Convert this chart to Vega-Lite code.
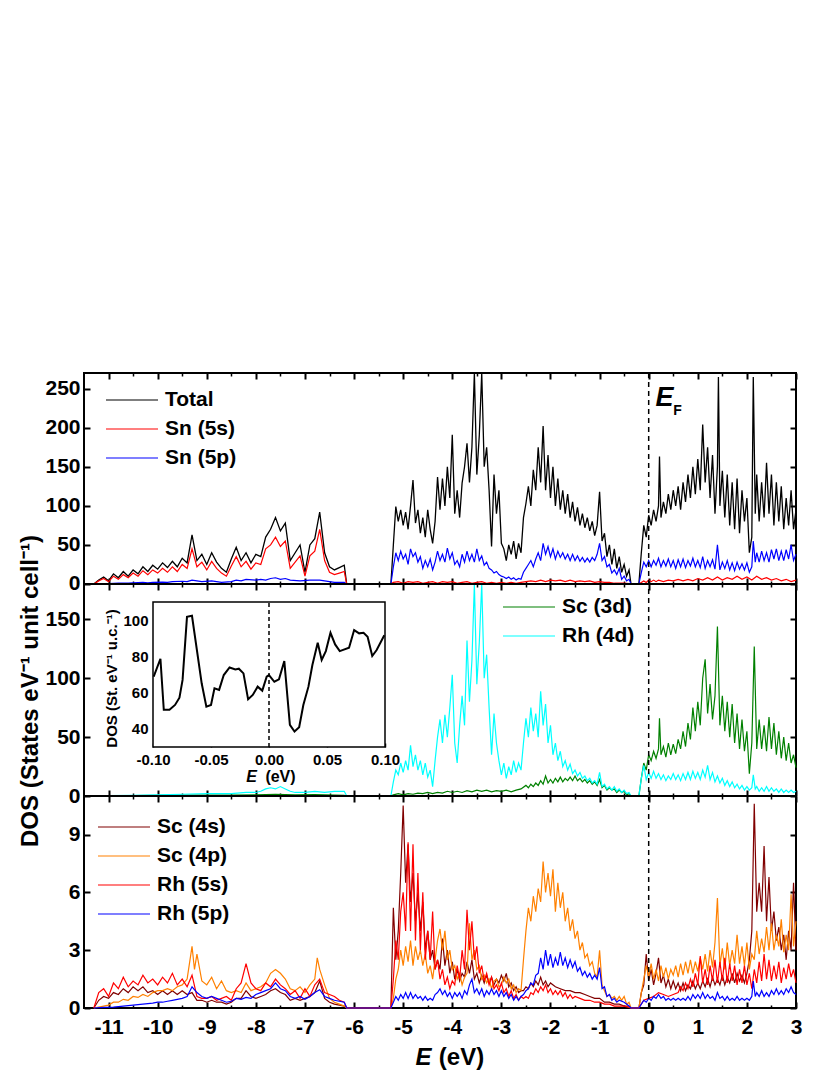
{
"$schema": "https://vega.github.io/schema/vega-lite/v6.json",
"autosize": {"type": "none"},
"padding": {"left": 84, "top": 373, "right": 34, "bottom": 67},
"width": 712,
"height": 635,
"config": {
 "font": "Liberation Sans",
 "view": {"stroke": "black", "strokeWidth": 2},
 "axis": {"grid": false, "domain": false, "labelFont": "Liberation Sans", "labelFontWeight": "bold", "labelFontSize": 21, "labelColor": "black", "tickColor": "black", "tickWidth": 2, "titleFont": "Liberation Sans", "titleFontWeight": "bold", "titleFontSize": 24, "titleColor": "black", "labelFlush": false, "labelOverlap": false},
 "legend": {"labelFont": "Liberation Sans", "labelFontSize": 21, "labelFontWeight": "bold", "labelColor": "black", "symbolType": "stroke", "symbolSize": 2704, "symbolStrokeWidth": 1.5, "labelOffset": 6, "orient": "none", "title": null},
 "line": {"strokeWidth": 1.2}
},
"resolve": {"scale": {"x": "independent", "y": "independent", "color": "independent"}, "axis": {"x": "independent", "y": "independent"}, "legend": {"color": "independent"}},
"datasets": {
"total": [{"E":-11.3,"v":0},{"E":-11.2,"v":5},{"E":-11.1,"v":9},{"E":-11.0,"v":4},{"E":-10.9,"v":13},{"E":-10.8,"v":8},{"E":-10.7,"v":16},{"E":-10.6,"v":10},{"E":-10.5,"v":18},{"E":-10.4,"v":13},{"E":-10.3,"v":22},{"E":-10.2,"v":16},{"E":-10.1,"v":24},{"E":-10.0,"v":19},{"E":-9.9,"v":27},{"E":-9.8,"v":21},{"E":-9.7,"v":29},{"E":-9.6,"v":22},{"E":-9.5,"v":33},{"E":-9.4,"v":27},{"E":-9.3,"v":63},{"E":-9.2,"v":30},{"E":-9.1,"v":38},{"E":-9.0,"v":25},{"E":-8.9,"v":40},{"E":-8.8,"v":28},{"E":-8.7,"v":20},{"E":-8.6,"v":15},{"E":-8.5,"v":32},{"E":-8.4,"v":47},{"E":-8.3,"v":30},{"E":-8.2,"v":40},{"E":-8.1,"v":27},{"E":-8.0,"v":38},{"E":-7.9,"v":35},{"E":-7.8,"v":60},{"E":-7.7,"v":70},{"E":-7.6,"v":85},{"E":-7.5,"v":68},{"E":-7.4,"v":78},{"E":-7.3,"v":30},{"E":-7.2,"v":40},{"E":-7.1,"v":50},{"E":-7.0,"v":15},{"E":-6.9,"v":50},{"E":-6.8,"v":58},{"E":-6.7,"v":92},{"E":-6.6,"v":40},{"E":-6.5,"v":22},{"E":-6.4,"v":18},{"E":-6.3,"v":21},{"E":-6.2,"v":24},{"E":-6.15,"v":0},{"E":-5.25,"v":0},{"E":-5.2,"v":50},{"E":-5.15,"v":99},{"E":-5.1,"v":80},{"E":-5.05,"v":95},{"E":-5.0,"v":75},{"E":-4.95,"v":92},{"E":-4.9,"v":70},{"E":-4.85,"v":100},{"E":-4.8,"v":133},{"E":-4.75,"v":78},{"E":-4.7,"v":95},{"E":-4.65,"v":65},{"E":-4.6,"v":85},{"E":-4.55,"v":60},{"E":-4.5,"v":95},{"E":-4.45,"v":70},{"E":-4.4,"v":52},{"E":-4.35,"v":80},{"E":-4.3,"v":137},{"E":-4.25,"v":95},{"E":-4.2,"v":135},{"E":-4.15,"v":100},{"E":-4.1,"v":150},{"E":-4.05,"v":110},{"E":-4.0,"v":191},{"E":-3.95,"v":90},{"E":-3.9,"v":120},{"E":-3.85,"v":85},{"E":-3.8,"v":129},{"E":-3.75,"v":150},{"E":-3.7,"v":180},{"E":-3.65,"v":130},{"E":-3.6,"v":175},{"E":-3.55,"v":270},{"E":-3.5,"v":140},{"E":-3.45,"v":190},{"E":-3.4,"v":270},{"E":-3.35,"v":150},{"E":-3.3,"v":175},{"E":-3.25,"v":120},{"E":-3.2,"v":48},{"E":-3.15,"v":140},{"E":-3.1,"v":90},{"E":-3.05,"v":120},{"E":-3.0,"v":52},{"E":-2.95,"v":45},{"E":-2.9,"v":30},{"E":-2.85,"v":50},{"E":-2.8,"v":38},{"E":-2.75,"v":55},{"E":-2.7,"v":32},{"E":-2.65,"v":52},{"E":-2.6,"v":40},{"E":-2.55,"v":85},{"E":-2.5,"v":103},{"E":-2.45,"v":125},{"E":-2.4,"v":100},{"E":-2.35,"v":146},{"E":-2.3,"v":120},{"E":-2.25,"v":175},{"E":-2.2,"v":130},{"E":-2.15,"v":202},{"E":-2.1,"v":120},{"E":-2.05,"v":165},{"E":-2.0,"v":110},{"E":-1.95,"v":150},{"E":-1.9,"v":100},{"E":-1.85,"v":135},{"E":-1.8,"v":95},{"E":-1.75,"v":120},{"E":-1.7,"v":90},{"E":-1.65,"v":115},{"E":-1.6,"v":85},{"E":-1.55,"v":105},{"E":-1.5,"v":80},{"E":-1.45,"v":98},{"E":-1.4,"v":75},{"E":-1.35,"v":90},{"E":-1.3,"v":72},{"E":-1.25,"v":85},{"E":-1.2,"v":68},{"E":-1.15,"v":80},{"E":-1.1,"v":62},{"E":-1.05,"v":75},{"E":-1.0,"v":118},{"E":-0.95,"v":55},{"E":-0.9,"v":65},{"E":-0.85,"v":35},{"E":-0.8,"v":50},{"E":-0.75,"v":25},{"E":-0.7,"v":45},{"E":-0.65,"v":20},{"E":-0.6,"v":35},{"E":-0.55,"v":15},{"E":-0.5,"v":25},{"E":-0.45,"v":10},{"E":-0.4,"v":18},{"E":-0.36,"v":0},{"E":-0.2,"v":0},{"E":-0.15,"v":40},{"E":-0.1,"v":75},{"E":-0.05,"v":60},{"E":0.0,"v":88},{"E":0.05,"v":75},{"E":0.1,"v":95},{"E":0.15,"v":80},{"E":0.2,"v":100},{"E":0.22,"v":163},{"E":0.25,"v":85},{"E":0.3,"v":105},{"E":0.35,"v":90},{"E":0.4,"v":115},{"E":0.45,"v":95},{"E":0.5,"v":120},{"E":0.55,"v":100},{"E":0.6,"v":125},{"E":0.65,"v":95},{"E":0.7,"v":130},{"E":0.75,"v":105},{"E":0.8,"v":140},{"E":0.85,"v":110},{"E":0.9,"v":150},{"E":0.95,"v":115},{"E":1.0,"v":160},{"E":1.05,"v":120},{"E":1.1,"v":204},{"E":1.15,"v":130},{"E":1.2,"v":175},{"E":1.25,"v":110},{"E":1.3,"v":165},{"E":1.35,"v":90},{"E":1.4,"v":150},{"E":1.42,"v":265},{"E":1.45,"v":100},{"E":1.5,"v":145},{"E":1.55,"v":85},{"E":1.6,"v":140},{"E":1.65,"v":75},{"E":1.7,"v":130},{"E":1.75,"v":70},{"E":1.8,"v":135},{"E":1.85,"v":65},{"E":1.9,"v":120},{"E":1.95,"v":80},{"E":2.0,"v":110},{"E":2.05,"v":40},{"E":2.1,"v":60},{"E":2.13,"v":265},{"E":2.17,"v":90},{"E":2.2,"v":140},{"E":2.25,"v":80},{"E":2.3,"v":130},{"E":2.35,"v":85},{"E":2.4,"v":155},{"E":2.45,"v":90},{"E":2.5,"v":140},{"E":2.55,"v":75},{"E":2.6,"v":130},{"E":2.65,"v":80},{"E":2.7,"v":125},{"E":2.75,"v":70},{"E":2.8,"v":110},{"E":2.85,"v":75},{"E":2.9,"v":120},{"E":2.95,"v":70},{"E":3.0,"v":95}],
"sn5s": [{"E":-11.3,"v":0},{"E":-11.2,"v":4},{"E":-11.1,"v":7},{"E":-11.0,"v":3},{"E":-10.9,"v":10},{"E":-10.8,"v":6},{"E":-10.7,"v":12},{"E":-10.6,"v":8},{"E":-10.5,"v":14},{"E":-10.4,"v":10},{"E":-10.3,"v":17},{"E":-10.2,"v":12},{"E":-10.1,"v":18},{"E":-10.0,"v":14},{"E":-9.9,"v":20},{"E":-9.8,"v":15},{"E":-9.7,"v":22},{"E":-9.6,"v":16},{"E":-9.5,"v":25},{"E":-9.4,"v":20},{"E":-9.3,"v":45},{"E":-9.2,"v":22},{"E":-9.1,"v":28},{"E":-9.0,"v":18},{"E":-8.9,"v":29},{"E":-8.8,"v":20},{"E":-8.7,"v":14},{"E":-8.6,"v":10},{"E":-8.5,"v":23},{"E":-8.4,"v":35},{"E":-8.3,"v":22},{"E":-8.2,"v":29},{"E":-8.1,"v":19},{"E":-8.0,"v":27},{"E":-7.9,"v":25},{"E":-7.8,"v":45},{"E":-7.7,"v":50},{"E":-7.6,"v":60},{"E":-7.5,"v":48},{"E":-7.4,"v":55},{"E":-7.3,"v":20},{"E":-7.2,"v":28},{"E":-7.1,"v":36},{"E":-7.0,"v":10},{"E":-6.9,"v":36},{"E":-6.8,"v":42},{"E":-6.7,"v":70},{"E":-6.6,"v":30},{"E":-6.5,"v":15},{"E":-6.4,"v":12},{"E":-6.3,"v":14},{"E":-6.2,"v":16},{"E":-6.15,"v":0},{"E":-5.25,"v":0},{"E":-5.2,"v":2},{"E":-5.1,"v":3},{"E":-5.0,"v":1},{"E":-4.9,"v":3},{"E":-4.8,"v":2},{"E":-4.7,"v":3},{"E":-4.6,"v":1},{"E":-4.5,"v":2},{"E":-4.4,"v":3},{"E":-4.3,"v":1},{"E":-4.2,"v":3},{"E":-4.1,"v":2},{"E":-4.0,"v":3},{"E":-3.9,"v":1},{"E":-3.8,"v":2},{"E":-3.7,"v":3},{"E":-3.6,"v":1},{"E":-3.5,"v":2},{"E":-3.4,"v":3},{"E":-3.3,"v":1},{"E":-3.2,"v":2},{"E":-3.1,"v":1},{"E":-3.0,"v":2},{"E":-2.9,"v":1},{"E":-2.8,"v":2},{"E":-2.7,"v":1},{"E":-2.6,"v":2},{"E":-2.5,"v":3},{"E":-2.4,"v":4},{"E":-2.3,"v":3},{"E":-2.2,"v":5},{"E":-2.1,"v":3},{"E":-2.0,"v":5},{"E":-1.9,"v":4},{"E":-1.8,"v":5},{"E":-1.7,"v":3},{"E":-1.6,"v":5},{"E":-1.5,"v":3},{"E":-1.4,"v":4},{"E":-1.3,"v":3},{"E":-1.2,"v":4},{"E":-1.1,"v":2},{"E":-1.0,"v":3},{"E":-0.9,"v":2},{"E":-0.8,"v":2},{"E":-0.7,"v":1},{"E":-0.6,"v":1},{"E":-0.5,"v":1},{"E":-0.4,"v":0.5},{"E":-0.36,"v":0},{"E":-0.2,"v":0},{"E":-0.1,"v":4},{"E":-0.05,"v":2},{"E":0.0,"v":5},{"E":0.05,"v":3},{"E":0.1,"v":5},{"E":0.15,"v":3},{"E":0.2,"v":5},{"E":0.3,"v":3},{"E":0.4,"v":5},{"E":0.5,"v":4},{"E":0.6,"v":6},{"E":0.7,"v":4},{"E":0.8,"v":6},{"E":0.9,"v":4},{"E":1.0,"v":7},{"E":1.1,"v":5},{"E":1.2,"v":8},{"E":1.3,"v":5},{"E":1.4,"v":9},{"E":1.5,"v":5},{"E":1.6,"v":8},{"E":1.7,"v":6},{"E":1.8,"v":10},{"E":1.9,"v":6},{"E":2.0,"v":9},{"E":2.1,"v":5},{"E":2.2,"v":10},{"E":2.3,"v":6},{"E":2.4,"v":8},{"E":2.5,"v":5},{"E":2.6,"v":7},{"E":2.7,"v":4},{"E":2.8,"v":6},{"E":2.9,"v":3},{"E":3.0,"v":5}],
"sn5p": [{"E":-11.3,"v":0},{"E":-11.1,"v":0},{"E":-11.0,"v":0.5},{"E":-10.8,"v":1},{"E":-10.6,"v":1},{"E":-10.5,"v":1.5},{"E":-10.3,"v":2},{"E":-10.2,"v":1.5},{"E":-10.1,"v":2},{"E":-9.9,"v":2.5},{"E":-9.8,"v":2},{"E":-9.7,"v":3},{"E":-9.5,"v":3.5},{"E":-9.4,"v":3},{"E":-9.3,"v":5},{"E":-9.2,"v":4},{"E":-9.1,"v":3},{"E":-8.9,"v":4},{"E":-8.8,"v":3},{"E":-8.7,"v":2},{"E":-8.5,"v":3},{"E":-8.4,"v":5},{"E":-8.3,"v":4},{"E":-8.2,"v":6},{"E":-8.0,"v":5},{"E":-7.9,"v":6},{"E":-7.8,"v":5},{"E":-7.7,"v":7},{"E":-7.6,"v":8},{"E":-7.5,"v":6},{"E":-7.4,"v":7},{"E":-7.3,"v":5},{"E":-7.1,"v":4},{"E":-6.9,"v":5},{"E":-6.7,"v":5},{"E":-6.6,"v":4},{"E":-6.5,"v":3},{"E":-6.4,"v":2},{"E":-6.2,"v":2},{"E":-6.15,"v":0},{"E":-5.25,"v":0},{"E":-5.2,"v":22},{"E":-5.15,"v":40},{"E":-5.1,"v":30},{"E":-5.05,"v":42},{"E":-5.0,"v":32},{"E":-4.95,"v":38},{"E":-4.9,"v":25},{"E":-4.85,"v":45},{"E":-4.8,"v":35},{"E":-4.75,"v":40},{"E":-4.7,"v":28},{"E":-4.65,"v":35},{"E":-4.6,"v":20},{"E":-4.55,"v":30},{"E":-4.5,"v":22},{"E":-4.45,"v":32},{"E":-4.4,"v":18},{"E":-4.35,"v":28},{"E":-4.3,"v":42},{"E":-4.25,"v":30},{"E":-4.2,"v":38},{"E":-4.15,"v":28},{"E":-4.1,"v":46},{"E":-4.05,"v":32},{"E":-4.0,"v":40},{"E":-3.95,"v":25},{"E":-3.9,"v":30},{"E":-3.85,"v":22},{"E":-3.8,"v":38},{"E":-3.75,"v":28},{"E":-3.7,"v":42},{"E":-3.65,"v":30},{"E":-3.6,"v":38},{"E":-3.55,"v":28},{"E":-3.5,"v":45},{"E":-3.45,"v":30},{"E":-3.4,"v":36},{"E":-3.35,"v":24},{"E":-3.3,"v":28},{"E":-3.25,"v":20},{"E":-3.2,"v":18},{"E":-3.15,"v":14},{"E":-3.1,"v":16},{"E":-3.05,"v":12},{"E":-3.0,"v":10},{"E":-2.95,"v":9},{"E":-2.9,"v":7},{"E":-2.85,"v":9},{"E":-2.8,"v":6},{"E":-2.75,"v":8},{"E":-2.7,"v":5},{"E":-2.65,"v":7},{"E":-2.6,"v":6},{"E":-2.55,"v":15},{"E":-2.5,"v":20},{"E":-2.45,"v":25},{"E":-2.4,"v":30},{"E":-2.35,"v":22},{"E":-2.3,"v":32},{"E":-2.25,"v":40},{"E":-2.2,"v":30},{"E":-2.15,"v":52},{"E":-2.1,"v":38},{"E":-2.05,"v":48},{"E":-2.0,"v":35},{"E":-1.95,"v":45},{"E":-1.9,"v":32},{"E":-1.85,"v":42},{"E":-1.8,"v":34},{"E":-1.75,"v":40},{"E":-1.7,"v":32},{"E":-1.65,"v":38},{"E":-1.6,"v":30},{"E":-1.55,"v":38},{"E":-1.5,"v":30},{"E":-1.45,"v":36},{"E":-1.4,"v":29},{"E":-1.35,"v":34},{"E":-1.3,"v":28},{"E":-1.25,"v":33},{"E":-1.2,"v":28},{"E":-1.15,"v":34},{"E":-1.1,"v":30},{"E":-1.05,"v":38},{"E":-1.0,"v":52},{"E":-0.95,"v":30},{"E":-0.9,"v":35},{"E":-0.85,"v":22},{"E":-0.8,"v":25},{"E":-0.75,"v":14},{"E":-0.7,"v":18},{"E":-0.65,"v":12},{"E":-0.6,"v":20},{"E":-0.55,"v":6},{"E":-0.5,"v":10},{"E":-0.45,"v":4},{"E":-0.4,"v":6},{"E":-0.36,"v":0},{"E":-0.2,"v":0},{"E":-0.15,"v":15},{"E":-0.1,"v":28},{"E":-0.05,"v":22},{"E":0.0,"v":30},{"E":0.05,"v":22},{"E":0.1,"v":30},{"E":0.15,"v":24},{"E":0.2,"v":33},{"E":0.25,"v":22},{"E":0.3,"v":30},{"E":0.35,"v":23},{"E":0.4,"v":32},{"E":0.45,"v":22},{"E":0.5,"v":30},{"E":0.55,"v":20},{"E":0.6,"v":31},{"E":0.65,"v":22},{"E":0.7,"v":32},{"E":0.75,"v":21},{"E":0.8,"v":30},{"E":0.85,"v":23},{"E":0.9,"v":33},{"E":0.95,"v":22},{"E":1.0,"v":30},{"E":1.05,"v":21},{"E":1.1,"v":35},{"E":1.15,"v":20},{"E":1.2,"v":30},{"E":1.25,"v":22},{"E":1.3,"v":31},{"E":1.35,"v":19},{"E":1.4,"v":50},{"E":1.45,"v":18},{"E":1.5,"v":28},{"E":1.55,"v":20},{"E":1.6,"v":30},{"E":1.65,"v":18},{"E":1.7,"v":27},{"E":1.75,"v":17},{"E":1.8,"v":28},{"E":1.85,"v":19},{"E":1.9,"v":26},{"E":1.95,"v":18},{"E":2.0,"v":27},{"E":2.05,"v":15},{"E":2.1,"v":22},{"E":2.13,"v":55},{"E":2.17,"v":28},{"E":2.2,"v":40},{"E":2.25,"v":28},{"E":2.3,"v":42},{"E":2.35,"v":30},{"E":2.4,"v":40},{"E":2.45,"v":28},{"E":2.5,"v":44},{"E":2.55,"v":32},{"E":2.6,"v":45},{"E":2.65,"v":30},{"E":2.7,"v":42},{"E":2.75,"v":30},{"E":2.8,"v":44},{"E":2.85,"v":32},{"E":2.9,"v":50},{"E":2.95,"v":30},{"E":3.0,"v":38}],
"sc3d": [{"E":-11.3,"v":0},{"E":-10.5,"v":0.3},{"E":-10.0,"v":0.5},{"E":-9.5,"v":0.7},{"E":-9.0,"v":0.8},{"E":-8.5,"v":0.7},{"E":-8.0,"v":1},{"E":-7.6,"v":1.5},{"E":-7.2,"v":1},{"E":-6.8,"v":1.2},{"E":-6.4,"v":0.8},{"E":-6.2,"v":0.6},{"E":-6.15,"v":0},{"E":-5.25,"v":0},{"E":-5.2,"v":1},{"E":-5.1,"v":2},{"E":-5.0,"v":1},{"E":-4.9,"v":2},{"E":-4.8,"v":1.5},{"E":-4.7,"v":2.5},{"E":-4.6,"v":2},{"E":-4.5,"v":3},{"E":-4.4,"v":2},{"E":-4.3,"v":3},{"E":-4.2,"v":2.5},{"E":-4.1,"v":4},{"E":-4.0,"v":3},{"E":-3.9,"v":4},{"E":-3.8,"v":3},{"E":-3.7,"v":4.5},{"E":-3.6,"v":3.5},{"E":-3.5,"v":5},{"E":-3.4,"v":4},{"E":-3.3,"v":5},{"E":-3.2,"v":3.5},{"E":-3.1,"v":4.5},{"E":-3.0,"v":4},{"E":-2.9,"v":5},{"E":-2.8,"v":3.5},{"E":-2.7,"v":5},{"E":-2.6,"v":6},{"E":-2.5,"v":9},{"E":-2.45,"v":7},{"E":-2.4,"v":10},{"E":-2.35,"v":8},{"E":-2.3,"v":11},{"E":-2.25,"v":9},{"E":-2.2,"v":13},{"E":-2.15,"v":10},{"E":-2.1,"v":17},{"E":-2.05,"v":11},{"E":-2.0,"v":14},{"E":-1.95,"v":11},{"E":-1.9,"v":15},{"E":-1.85,"v":12},{"E":-1.8,"v":16},{"E":-1.75,"v":12},{"E":-1.7,"v":15},{"E":-1.65,"v":13},{"E":-1.6,"v":16},{"E":-1.55,"v":13},{"E":-1.5,"v":17},{"E":-1.45,"v":13},{"E":-1.4,"v":15},{"E":-1.35,"v":12},{"E":-1.3,"v":14},{"E":-1.25,"v":11},{"E":-1.2,"v":13},{"E":-1.15,"v":10},{"E":-1.1,"v":12},{"E":-1.05,"v":9},{"E":-1.0,"v":14},{"E":-0.95,"v":7},{"E":-0.9,"v":9},{"E":-0.85,"v":5},{"E":-0.8,"v":7},{"E":-0.75,"v":5},{"E":-0.7,"v":6},{"E":-0.65,"v":3},{"E":-0.6,"v":5},{"E":-0.55,"v":3},{"E":-0.5,"v":4},{"E":-0.45,"v":1},{"E":-0.4,"v":2},{"E":-0.36,"v":0},{"E":-0.2,"v":0},{"E":-0.15,"v":15},{"E":-0.1,"v":28},{"E":-0.05,"v":22},{"E":0.0,"v":35},{"E":0.05,"v":30},{"E":0.1,"v":38},{"E":0.15,"v":32},{"E":0.2,"v":40},{"E":0.22,"v":66},{"E":0.25,"v":35},{"E":0.3,"v":42},{"E":0.35,"v":33},{"E":0.4,"v":45},{"E":0.45,"v":35},{"E":0.5,"v":44},{"E":0.55,"v":36},{"E":0.6,"v":48},{"E":0.65,"v":40},{"E":0.7,"v":55},{"E":0.75,"v":42},{"E":0.8,"v":62},{"E":0.85,"v":48},{"E":0.9,"v":75},{"E":0.95,"v":55},{"E":1.0,"v":80},{"E":1.05,"v":60},{"E":1.1,"v":100},{"E":1.15,"v":116},{"E":1.2,"v":70},{"E":1.25,"v":95},{"E":1.3,"v":65},{"E":1.35,"v":85},{"E":1.4,"v":144},{"E":1.45,"v":60},{"E":1.5,"v":85},{"E":1.55,"v":55},{"E":1.6,"v":80},{"E":1.65,"v":50},{"E":1.7,"v":78},{"E":1.75,"v":45},{"E":1.8,"v":70},{"E":1.85,"v":40},{"E":1.9,"v":65},{"E":1.95,"v":38},{"E":2.0,"v":55},{"E":2.05,"v":19},{"E":2.1,"v":45},{"E":2.15,"v":127},{"E":2.2,"v":40},{"E":2.25,"v":65},{"E":2.3,"v":40},{"E":2.35,"v":60},{"E":2.4,"v":38},{"E":2.45,"v":67},{"E":2.5,"v":40},{"E":2.55,"v":62},{"E":2.6,"v":35},{"E":2.65,"v":55},{"E":2.7,"v":32},{"E":2.75,"v":50},{"E":2.8,"v":30},{"E":2.85,"v":45},{"E":2.9,"v":28},{"E":2.95,"v":35},{"E":3.0,"v":24}],
"rh4d": [{"E":-11.3,"v":0},{"E":-11.0,"v":0.3},{"E":-10.5,"v":0.5},{"E":-10.0,"v":1},{"E":-9.5,"v":1.5},{"E":-9.0,"v":2},{"E":-8.5,"v":2},{"E":-8.2,"v":3},{"E":-8.0,"v":3},{"E":-7.9,"v":4},{"E":-7.8,"v":6},{"E":-7.7,"v":7},{"E":-7.6,"v":6},{"E":-7.5,"v":8},{"E":-7.4,"v":6},{"E":-7.3,"v":4},{"E":-7.2,"v":3},{"E":-7.0,"v":3},{"E":-6.8,"v":4},{"E":-6.6,"v":3},{"E":-6.4,"v":4},{"E":-6.2,"v":4},{"E":-6.15,"v":0},{"E":-5.25,"v":0},{"E":-5.2,"v":12},{"E":-5.15,"v":22},{"E":-5.1,"v":18},{"E":-5.05,"v":28},{"E":-5.0,"v":20},{"E":-4.95,"v":30},{"E":-4.9,"v":22},{"E":-4.85,"v":43},{"E":-4.8,"v":25},{"E":-4.75,"v":35},{"E":-4.7,"v":22},{"E":-4.65,"v":30},{"E":-4.6,"v":18},{"E":-4.55,"v":28},{"E":-4.5,"v":16},{"E":-4.45,"v":22},{"E":-4.4,"v":8},{"E":-4.35,"v":30},{"E":-4.3,"v":50},{"E":-4.25,"v":65},{"E":-4.2,"v":45},{"E":-4.15,"v":69},{"E":-4.1,"v":50},{"E":-4.05,"v":75},{"E":-4.0,"v":103},{"E":-3.95,"v":45},{"E":-3.9,"v":28},{"E":-3.85,"v":60},{"E":-3.8,"v":85},{"E":-3.75,"v":60},{"E":-3.7,"v":132},{"E":-3.65,"v":80},{"E":-3.6,"v":115},{"E":-3.55,"v":180},{"E":-3.5,"v":95},{"E":-3.45,"v":130},{"E":-3.4,"v":180},{"E":-3.35,"v":100},{"E":-3.3,"v":120},{"E":-3.25,"v":75},{"E":-3.2,"v":35},{"E":-3.15,"v":70},{"E":-3.1,"v":45},{"E":-3.05,"v":30},{"E":-3.0,"v":18},{"E":-2.95,"v":28},{"E":-2.9,"v":15},{"E":-2.85,"v":25},{"E":-2.8,"v":18},{"E":-2.75,"v":30},{"E":-2.7,"v":20},{"E":-2.65,"v":28},{"E":-2.6,"v":22},{"E":-2.55,"v":45},{"E":-2.5,"v":66},{"E":-2.45,"v":50},{"E":-2.4,"v":75},{"E":-2.35,"v":55},{"E":-2.3,"v":70},{"E":-2.25,"v":50},{"E":-2.2,"v":89},{"E":-2.15,"v":60},{"E":-2.1,"v":78},{"E":-2.05,"v":45},{"E":-2.0,"v":60},{"E":-1.95,"v":35},{"E":-1.9,"v":45},{"E":-1.85,"v":30},{"E":-1.8,"v":38},{"E":-1.75,"v":25},{"E":-1.7,"v":30},{"E":-1.65,"v":22},{"E":-1.6,"v":27},{"E":-1.55,"v":19},{"E":-1.5,"v":22},{"E":-1.45,"v":17},{"E":-1.4,"v":20},{"E":-1.35,"v":15},{"E":-1.3,"v":17},{"E":-1.25,"v":13},{"E":-1.2,"v":15},{"E":-1.15,"v":11},{"E":-1.1,"v":13},{"E":-1.05,"v":10},{"E":-1.0,"v":20},{"E":-0.95,"v":8},{"E":-0.9,"v":10},{"E":-0.85,"v":6},{"E":-0.8,"v":8},{"E":-0.75,"v":5},{"E":-0.7,"v":8},{"E":-0.65,"v":4},{"E":-0.6,"v":6},{"E":-0.55,"v":3},{"E":-0.5,"v":5},{"E":-0.45,"v":2},{"E":-0.4,"v":3},{"E":-0.36,"v":0},{"E":-0.2,"v":0},{"E":-0.15,"v":15},{"E":-0.1,"v":26},{"E":-0.05,"v":14},{"E":0.0,"v":20},{"E":0.05,"v":15},{"E":0.1,"v":21},{"E":0.15,"v":15},{"E":0.2,"v":19},{"E":0.25,"v":14},{"E":0.3,"v":18},{"E":0.35,"v":13},{"E":0.4,"v":17},{"E":0.45,"v":14},{"E":0.5,"v":19},{"E":0.55,"v":14},{"E":0.6,"v":18},{"E":0.65,"v":13},{"E":0.7,"v":19},{"E":0.75,"v":14},{"E":0.8,"v":20},{"E":0.85,"v":14},{"E":0.9,"v":21},{"E":0.95,"v":15},{"E":1.0,"v":20},{"E":1.05,"v":14},{"E":1.1,"v":22},{"E":1.15,"v":16},{"E":1.2,"v":26},{"E":1.25,"v":14},{"E":1.3,"v":20},{"E":1.35,"v":12},{"E":1.4,"v":17},{"E":1.45,"v":11},{"E":1.5,"v":15},{"E":1.55,"v":9},{"E":1.6,"v":13},{"E":1.65,"v":8},{"E":1.7,"v":12},{"E":1.75,"v":7},{"E":1.8,"v":10},{"E":1.85,"v":6},{"E":1.9,"v":9},{"E":1.95,"v":5},{"E":2.0,"v":8},{"E":2.05,"v":5},{"E":2.1,"v":7},{"E":2.13,"v":18},{"E":2.17,"v":6},{"E":2.2,"v":8},{"E":2.25,"v":4},{"E":2.3,"v":7},{"E":2.35,"v":4},{"E":2.4,"v":8},{"E":2.45,"v":4},{"E":2.5,"v":7},{"E":2.55,"v":4},{"E":2.6,"v":6},{"E":2.65,"v":3},{"E":2.7,"v":6},{"E":2.75,"v":3},{"E":2.8,"v":5},{"E":2.85,"v":3},{"E":2.9,"v":5},{"E":2.95,"v":3},{"E":3.0,"v":4}],
"sc4s": [{"E":-11.3,"v":0},{"E":-11.2,"v":0.4},{"E":-11.1,"v":0.6},{"E":-11.0,"v":0.5},{"E":-10.9,"v":0.8},{"E":-10.8,"v":0.7},{"E":-10.7,"v":1.0},{"E":-10.6,"v":0.8},{"E":-10.5,"v":1.1},{"E":-10.4,"v":0.9},{"E":-10.3,"v":1.1},{"E":-10.2,"v":0.8},{"E":-10.1,"v":0.9},{"E":-10.0,"v":0.7},{"E":-9.9,"v":0.9},{"E":-9.8,"v":0.7},{"E":-9.7,"v":0.9},{"E":-9.6,"v":0.7},{"E":-9.5,"v":0.9},{"E":-9.4,"v":0.7},{"E":-9.3,"v":0.8},{"E":-9.2,"v":0.4},{"E":-9.1,"v":0.4},{"E":-9.0,"v":0.3},{"E":-8.9,"v":0.4},{"E":-8.8,"v":0.3},{"E":-8.7,"v":0.3},{"E":-8.6,"v":0.2},{"E":-8.5,"v":0.3},{"E":-8.4,"v":0.5},{"E":-8.3,"v":0.5},{"E":-8.2,"v":0.9},{"E":-8.1,"v":0.6},{"E":-8.0,"v":0.5},{"E":-7.9,"v":0.6},{"E":-7.8,"v":0.7},{"E":-7.7,"v":0.9},{"E":-7.6,"v":1.0},{"E":-7.5,"v":0.8},{"E":-7.4,"v":0.7},{"E":-7.3,"v":0.4},{"E":-7.2,"v":0.5},{"E":-7.1,"v":0.4},{"E":-7.0,"v":0.5},{"E":-6.9,"v":0.6},{"E":-6.8,"v":0.8},{"E":-6.7,"v":1.4},{"E":-6.6,"v":0.5},{"E":-6.5,"v":0.3},{"E":-6.4,"v":0.2},{"E":-6.3,"v":0.15},{"E":-6.2,"v":0.1},{"E":-6.15,"v":0},{"E":-5.25,"v":0},{"E":-5.2,"v":5.2},{"E":-5.15,"v":2.5},{"E":-5.1,"v":4},{"E":-5.05,"v":7},{"E":-5.0,"v":10.5},{"E":-4.95,"v":6.5},{"E":-4.9,"v":8.5},{"E":-4.85,"v":5.5},{"E":-4.8,"v":7},{"E":-4.75,"v":4.5},{"E":-4.7,"v":6},{"E":-4.65,"v":4},{"E":-4.6,"v":5.5},{"E":-4.55,"v":3},{"E":-4.5,"v":4},{"E":-4.45,"v":2.5},{"E":-4.4,"v":3},{"E":-4.35,"v":2},{"E":-4.3,"v":2.5},{"E":-4.25,"v":2},{"E":-4.2,"v":3.6},{"E":-4.15,"v":2.2},{"E":-4.1,"v":3},{"E":-4.05,"v":1.8},{"E":-4.0,"v":2.4},{"E":-3.95,"v":1.5},{"E":-3.9,"v":2},{"E":-3.85,"v":1.4},{"E":-3.8,"v":1.8},{"E":-3.75,"v":1.6},{"E":-3.7,"v":2.4},{"E":-3.65,"v":1.8},{"E":-3.6,"v":2.5},{"E":-3.55,"v":1.5},{"E":-3.5,"v":1.8},{"E":-3.45,"v":1.3},{"E":-3.4,"v":1.7},{"E":-3.35,"v":1.3},{"E":-3.3,"v":1.7},{"E":-3.25,"v":1.3},{"E":-3.2,"v":1.6},{"E":-3.15,"v":1.2},{"E":-3.1,"v":1.5},{"E":-3.05,"v":1.3},{"E":-3.0,"v":1.7},{"E":-2.95,"v":1.4},{"E":-2.9,"v":1.8},{"E":-2.85,"v":1.1},{"E":-2.8,"v":1.3},{"E":-2.75,"v":0.9},{"E":-2.7,"v":1.1},{"E":-2.65,"v":0.8},{"E":-2.6,"v":0.9},{"E":-2.55,"v":0.9},{"E":-2.5,"v":1.1},{"E":-2.45,"v":1.0},{"E":-2.4,"v":1.3},{"E":-2.35,"v":1.1},{"E":-2.3,"v":1.4},{"E":-2.25,"v":1.2},{"E":-2.2,"v":1.6},{"E":-2.15,"v":1.2},{"E":-2.1,"v":1.4},{"E":-2.05,"v":1.1},{"E":-2.0,"v":1.3},{"E":-1.9,"v":1.1},{"E":-1.8,"v":1.0},{"E":-1.7,"v":0.9},{"E":-1.6,"v":0.9},{"E":-1.5,"v":0.8},{"E":-1.4,"v":0.8},{"E":-1.3,"v":0.7},{"E":-1.2,"v":0.6},{"E":-1.1,"v":0.5},{"E":-1.0,"v":0.5},{"E":-0.9,"v":0.3},{"E":-0.8,"v":0.3},{"E":-0.7,"v":0.2},{"E":-0.6,"v":0.2},{"E":-0.5,"v":0.1},{"E":-0.4,"v":0.1},{"E":-0.36,"v":0},{"E":-0.2,"v":0},{"E":-0.15,"v":0.8},{"E":-0.1,"v":1.2},{"E":-0.05,"v":2.8},{"E":0.0,"v":1.4},{"E":0.05,"v":2.0},{"E":0.1,"v":1.2},{"E":0.15,"v":1.8},{"E":0.2,"v":2.6},{"E":0.25,"v":1.3},{"E":0.3,"v":1.7},{"E":0.35,"v":1.1},{"E":0.4,"v":1.5},{"E":0.45,"v":1.0},{"E":0.5,"v":1.4},{"E":0.55,"v":1.0},{"E":0.6,"v":1.3},{"E":0.65,"v":0.9},{"E":0.7,"v":1.3},{"E":0.75,"v":0.9},{"E":0.8,"v":1.2},{"E":0.85,"v":1.0},{"E":0.9,"v":1.4},{"E":0.95,"v":1.0},{"E":1.0,"v":1.3},{"E":1.05,"v":1.0},{"E":1.1,"v":1.4},{"E":1.15,"v":1.1},{"E":1.2,"v":1.5},{"E":1.25,"v":1.1},{"E":1.3,"v":1.6},{"E":1.35,"v":1.2},{"E":1.4,"v":1.5},{"E":1.45,"v":1.2},{"E":1.5,"v":1.7},{"E":1.55,"v":1.2},{"E":1.6,"v":1.6},{"E":1.65,"v":1.3},{"E":1.7,"v":1.8},{"E":1.75,"v":1.3},{"E":1.8,"v":1.8},{"E":1.85,"v":1.4},{"E":1.9,"v":1.7},{"E":1.95,"v":1.3},{"E":2.0,"v":1.8},{"E":2.05,"v":2.5},{"E":2.1,"v":4},{"E":2.15,"v":10.6},{"E":2.2,"v":5},{"E":2.25,"v":6.5},{"E":2.3,"v":5},{"E":2.35,"v":8.4},{"E":2.4,"v":4.5},{"E":2.45,"v":6.8},{"E":2.5,"v":4},{"E":2.55,"v":5},{"E":2.6,"v":3.5},{"E":2.65,"v":4.2},{"E":2.7,"v":3},{"E":2.75,"v":3.8},{"E":2.8,"v":2.5},{"E":2.85,"v":4},{"E":2.9,"v":3},{"E":2.95,"v":6.5},{"E":3.0,"v":3}],
"sc4p": [{"E":-11.3,"v":0},{"E":-11.2,"v":0.05},{"E":-11.1,"v":0.1},{"E":-11.0,"v":0.15},{"E":-10.9,"v":0.3},{"E":-10.8,"v":0.3},{"E":-10.7,"v":0.45},{"E":-10.6,"v":0.4},{"E":-10.5,"v":0.6},{"E":-10.4,"v":0.55},{"E":-10.3,"v":0.7},{"E":-10.2,"v":0.6},{"E":-10.1,"v":0.8},{"E":-10.0,"v":0.9},{"E":-9.9,"v":0.9},{"E":-9.8,"v":1.0},{"E":-9.7,"v":0.9},{"E":-9.6,"v":1.1},{"E":-9.5,"v":1.2},{"E":-9.4,"v":1.5},{"E":-9.3,"v":3.2},{"E":-9.25,"v":2.0},{"E":-9.2,"v":2.8},{"E":-9.1,"v":1.4},{"E":-9.0,"v":1.2},{"E":-8.9,"v":1.6},{"E":-8.8,"v":1.0},{"E":-8.7,"v":1.4},{"E":-8.6,"v":0.9},{"E":-8.5,"v":0.8},{"E":-8.4,"v":0.9},{"E":-8.3,"v":0.8},{"E":-8.2,"v":1.3},{"E":-8.1,"v":0.9},{"E":-8.0,"v":1.0},{"E":-7.9,"v":1.1},{"E":-7.8,"v":1.3},{"E":-7.7,"v":1.8},{"E":-7.6,"v":2.0},{"E":-7.5,"v":1.8},{"E":-7.4,"v":1.5},{"E":-7.3,"v":1.0},{"E":-7.2,"v":0.9},{"E":-7.1,"v":1.1},{"E":-7.0,"v":0.8},{"E":-6.9,"v":1.2},{"E":-6.8,"v":1.5},{"E":-6.75,"v":2.6},{"E":-6.7,"v":2.0},{"E":-6.6,"v":1.2},{"E":-6.5,"v":0.5},{"E":-6.4,"v":0.3},{"E":-6.3,"v":0.2},{"E":-6.2,"v":0.1},{"E":-6.15,"v":0},{"E":-5.25,"v":0},{"E":-5.2,"v":0.5},{"E":-5.15,"v":1.5},{"E":-5.1,"v":2},{"E":-5.05,"v":3},{"E":-5.0,"v":2.2},{"E":-4.95,"v":3.2},{"E":-4.9,"v":2.4},{"E":-4.85,"v":3.5},{"E":-4.8,"v":2.2},{"E":-4.75,"v":3.2},{"E":-4.7,"v":2.5},{"E":-4.65,"v":3.0},{"E":-4.6,"v":2.2},{"E":-4.55,"v":2.8},{"E":-4.5,"v":1.8},{"E":-4.45,"v":2.2},{"E":-4.4,"v":1.5},{"E":-4.35,"v":2.5},{"E":-4.3,"v":3.5},{"E":-4.25,"v":4.1},{"E":-4.2,"v":3},{"E":-4.15,"v":4},{"E":-4.1,"v":2.5},{"E":-4.05,"v":3},{"E":-4.0,"v":2},{"E":-3.95,"v":2.2},{"E":-3.9,"v":1.5},{"E":-3.85,"v":1.8},{"E":-3.8,"v":1.2},{"E":-3.75,"v":1.6},{"E":-3.7,"v":1.8},{"E":-3.65,"v":4.4},{"E":-3.6,"v":2.5},{"E":-3.55,"v":3},{"E":-3.5,"v":2},{"E":-3.45,"v":2.2},{"E":-3.4,"v":1.5},{"E":-3.35,"v":1.7},{"E":-3.3,"v":1.3},{"E":-3.25,"v":1.5},{"E":-3.2,"v":1.0},{"E":-3.15,"v":1.4},{"E":-3.1,"v":1.5},{"E":-3.05,"v":1.1},{"E":-3.0,"v":1.2},{"E":-2.95,"v":1.6},{"E":-2.9,"v":1.3},{"E":-2.85,"v":1.5},{"E":-2.8,"v":1.0},{"E":-2.75,"v":1.2},{"E":-2.7,"v":0.8},{"E":-2.65,"v":1.0},{"E":-2.6,"v":0.9},{"E":-2.55,"v":2.5},{"E":-2.5,"v":4},{"E":-2.45,"v":5.2},{"E":-2.4,"v":4.5},{"E":-2.35,"v":5.8},{"E":-2.3,"v":5.0},{"E":-2.25,"v":6.2},{"E":-2.2,"v":5.5},{"E":-2.15,"v":7.6},{"E":-2.1,"v":6.0},{"E":-2.05,"v":7.0},{"E":-2.0,"v":5.8},{"E":-1.95,"v":7.2},{"E":-1.9,"v":5.0},{"E":-1.85,"v":6.5},{"E":-1.8,"v":5.2},{"E":-1.75,"v":6.0},{"E":-1.7,"v":4.5},{"E":-1.65,"v":5.2},{"E":-1.6,"v":4.0},{"E":-1.55,"v":4.6},{"E":-1.5,"v":3.6},{"E":-1.45,"v":4.0},{"E":-1.4,"v":3.0},{"E":-1.35,"v":3.4},{"E":-1.3,"v":2.6},{"E":-1.25,"v":2.8},{"E":-1.2,"v":2.2},{"E":-1.15,"v":2.4},{"E":-1.1,"v":1.8},{"E":-1.05,"v":1.6},{"E":-1.0,"v":3.0},{"E":-0.95,"v":1.2},{"E":-0.9,"v":0.9},{"E":-0.85,"v":0.6},{"E":-0.8,"v":0.7},{"E":-0.75,"v":0.5},{"E":-0.7,"v":0.6},{"E":-0.65,"v":0.4},{"E":-0.6,"v":0.6},{"E":-0.55,"v":0.4},{"E":-0.5,"v":0.6},{"E":-0.45,"v":0.2},{"E":-0.4,"v":0.3},{"E":-0.36,"v":0},{"E":-0.2,"v":0},{"E":-0.15,"v":0.8},{"E":-0.1,"v":1.5},{"E":-0.05,"v":2.2},{"E":0.0,"v":1.6},{"E":0.05,"v":2.3},{"E":0.1,"v":1.5},{"E":0.15,"v":2.0},{"E":0.2,"v":1.4},{"E":0.25,"v":2.2},{"E":0.3,"v":1.6},{"E":0.35,"v":2.1},{"E":0.4,"v":1.5},{"E":0.45,"v":2.0},{"E":0.5,"v":1.7},{"E":0.55,"v":2.2},{"E":0.6,"v":1.6},{"E":0.65,"v":2.3},{"E":0.7,"v":1.7},{"E":0.75,"v":2.4},{"E":0.8,"v":1.8},{"E":0.85,"v":2.5},{"E":0.9,"v":1.8},{"E":0.95,"v":2.4},{"E":1.0,"v":1.9},{"E":1.05,"v":2.6},{"E":1.1,"v":2.0},{"E":1.15,"v":2.8},{"E":1.2,"v":1.9},{"E":1.25,"v":3.0},{"E":1.3,"v":2.1},{"E":1.35,"v":3.4},{"E":1.4,"v":5.7},{"E":1.45,"v":2.2},{"E":1.5,"v":3.1},{"E":1.55,"v":2.0},{"E":1.6,"v":3.4},{"E":1.65,"v":2.2},{"E":1.7,"v":3.0},{"E":1.75,"v":2.3},{"E":1.8,"v":3.8},{"E":1.85,"v":2.3},{"E":1.9,"v":3.2},{"E":1.95,"v":2.2},{"E":2.0,"v":3.4},{"E":2.05,"v":2.0},{"E":2.1,"v":2.8},{"E":2.15,"v":2.5},{"E":2.2,"v":4.0},{"E":2.25,"v":2.8},{"E":2.3,"v":3.6},{"E":2.35,"v":2.9},{"E":2.4,"v":4.2},{"E":2.45,"v":3.0},{"E":2.5,"v":4.4},{"E":2.55,"v":3.0},{"E":2.6,"v":3.8},{"E":2.65,"v":3.2},{"E":2.7,"v":4.6},{"E":2.75,"v":2.9},{"E":2.8,"v":3.8},{"E":2.85,"v":3.0},{"E":2.9,"v":5.9},{"E":2.95,"v":3.2},{"E":3.0,"v":4.5}],
"rh5s": [{"E":-11.3,"v":0},{"E":-11.2,"v":0.8},{"E":-11.1,"v":1.0},{"E":-11.0,"v":0.6},{"E":-10.9,"v":1.3},{"E":-10.8,"v":1.0},{"E":-10.7,"v":1.6},{"E":-10.6,"v":1.1},{"E":-10.5,"v":1.4},{"E":-10.4,"v":1.2},{"E":-10.3,"v":1.7},{"E":-10.2,"v":1.3},{"E":-10.1,"v":1.5},{"E":-10.0,"v":1.2},{"E":-9.9,"v":1.6},{"E":-9.8,"v":1.3},{"E":-9.7,"v":1.8},{"E":-9.6,"v":1.2},{"E":-9.5,"v":1.5},{"E":-9.4,"v":1.1},{"E":-9.3,"v":1.7},{"E":-9.2,"v":0.6},{"E":-9.1,"v":0.5},{"E":-9.0,"v":0.5},{"E":-8.9,"v":0.6},{"E":-8.8,"v":0.4},{"E":-8.7,"v":0.5},{"E":-8.6,"v":0.6},{"E":-8.5,"v":0.4},{"E":-8.4,"v":1.0},{"E":-8.3,"v":1.3},{"E":-8.2,"v":2.3},{"E":-8.1,"v":1.3},{"E":-8.0,"v":1.0},{"E":-7.9,"v":0.9},{"E":-7.8,"v":1.3},{"E":-7.7,"v":1.1},{"E":-7.6,"v":1.5},{"E":-7.5,"v":1.2},{"E":-7.4,"v":1.0},{"E":-7.3,"v":0.7},{"E":-7.2,"v":0.9},{"E":-7.1,"v":0.5},{"E":-7.0,"v":1.0},{"E":-6.9,"v":0.6},{"E":-6.8,"v":1.2},{"E":-6.7,"v":1.5},{"E":-6.6,"v":0.8},{"E":-6.5,"v":0.7},{"E":-6.4,"v":0.6},{"E":-6.3,"v":0.4},{"E":-6.2,"v":0.3},{"E":-6.15,"v":0},{"E":-5.25,"v":0},{"E":-5.2,"v":1.5},{"E":-5.15,"v":3.5},{"E":-5.1,"v":2.5},{"E":-5.05,"v":5},{"E":-5.0,"v":6},{"E":-4.95,"v":4},{"E":-4.9,"v":8.6},{"E":-4.85,"v":4},{"E":-4.8,"v":8.5},{"E":-4.75,"v":3.5},{"E":-4.7,"v":7},{"E":-4.65,"v":3},{"E":-4.6,"v":6},{"E":-4.55,"v":2.5},{"E":-4.5,"v":4},{"E":-4.45,"v":2.5},{"E":-4.4,"v":5},{"E":-4.35,"v":2},{"E":-4.3,"v":2.5},{"E":-4.25,"v":1.5},{"E":-4.2,"v":2},{"E":-4.15,"v":1.2},{"E":-4.1,"v":1.6},{"E":-4.05,"v":1.0},{"E":-4.0,"v":1.4},{"E":-3.95,"v":1.2},{"E":-3.9,"v":2.2},{"E":-3.85,"v":1.5},{"E":-3.8,"v":3},{"E":-3.75,"v":2},{"E":-3.7,"v":5.1},{"E":-3.65,"v":3},{"E":-3.6,"v":4.5},{"E":-3.55,"v":2.5},{"E":-3.5,"v":3.2},{"E":-3.45,"v":1.8},{"E":-3.4,"v":2.2},{"E":-3.35,"v":1.4},{"E":-3.3,"v":1.8},{"E":-3.25,"v":1.2},{"E":-3.2,"v":1.6},{"E":-3.15,"v":1.0},{"E":-3.1,"v":1.2},{"E":-3.05,"v":0.9},{"E":-3.0,"v":1.3},{"E":-2.95,"v":0.8},{"E":-2.9,"v":1.0},{"E":-2.85,"v":0.6},{"E":-2.8,"v":0.9},{"E":-2.75,"v":0.5},{"E":-2.7,"v":0.7},{"E":-2.65,"v":0.4},{"E":-2.6,"v":0.6},{"E":-2.55,"v":0.5},{"E":-2.5,"v":0.6},{"E":-2.45,"v":0.5},{"E":-2.4,"v":0.8},{"E":-2.35,"v":0.7},{"E":-2.3,"v":1.0},{"E":-2.25,"v":0.8},{"E":-2.2,"v":1.1},{"E":-2.15,"v":0.9},{"E":-2.1,"v":1.2},{"E":-2.05,"v":0.8},{"E":-2.0,"v":1.0},{"E":-1.95,"v":0.7},{"E":-1.9,"v":0.9},{"E":-1.85,"v":0.7},{"E":-1.8,"v":0.9},{"E":-1.75,"v":0.6},{"E":-1.7,"v":0.8},{"E":-1.65,"v":0.5},{"E":-1.6,"v":0.7},{"E":-1.55,"v":0.5},{"E":-1.5,"v":0.6},{"E":-1.4,"v":0.5},{"E":-1.3,"v":0.4},{"E":-1.2,"v":0.4},{"E":-1.1,"v":0.3},{"E":-1.0,"v":0.3},{"E":-0.9,"v":0.2},{"E":-0.8,"v":0.2},{"E":-0.7,"v":0.1},{"E":-0.6,"v":0.1},{"E":-0.5,"v":0.1},{"E":-0.36,"v":0},{"E":-0.2,"v":0},{"E":-0.1,"v":0.4},{"E":0.0,"v":0.5},{"E":0.1,"v":0.6},{"E":0.2,"v":0.8},{"E":0.3,"v":0.7},{"E":0.4,"v":0.6},{"E":0.5,"v":0.7},{"E":0.6,"v":0.8},{"E":0.65,"v":1.1},{"E":0.7,"v":0.9},{"E":0.75,"v":1.3},{"E":0.8,"v":1.0},{"E":0.85,"v":1.5},{"E":0.9,"v":1.1},{"E":0.95,"v":1.8},{"E":1.0,"v":1.2},{"E":1.05,"v":2.7},{"E":1.1,"v":1.3},{"E":1.15,"v":2.0},{"E":1.2,"v":1.2},{"E":1.25,"v":2.2},{"E":1.3,"v":1.4},{"E":1.35,"v":2.5},{"E":1.4,"v":1.3},{"E":1.45,"v":2.4},{"E":1.5,"v":1.4},{"E":1.55,"v":2.6},{"E":1.6,"v":1.3},{"E":1.65,"v":2.3},{"E":1.7,"v":1.4},{"E":1.75,"v":2.2},{"E":1.8,"v":1.2},{"E":1.85,"v":2.0},{"E":1.9,"v":1.3},{"E":1.95,"v":2.2},{"E":2.0,"v":1.2},{"E":2.05,"v":1.8},{"E":2.1,"v":1.0},{"E":2.15,"v":2.0},{"E":2.2,"v":1.3},{"E":2.25,"v":2.4},{"E":2.3,"v":1.4},{"E":2.35,"v":2.8},{"E":2.4,"v":1.5},{"E":2.45,"v":2.5},{"E":2.5,"v":1.4},{"E":2.55,"v":2.2},{"E":2.6,"v":1.5},{"E":2.65,"v":2.4},{"E":2.7,"v":1.3},{"E":2.75,"v":2.1},{"E":2.8,"v":1.5},{"E":2.85,"v":2.3},{"E":2.9,"v":1.6},{"E":2.95,"v":2.0},{"E":3.0,"v":1.3}],
"rh5p": [{"E":-11.3,"v":0},{"E":-11.1,"v":0.03},{"E":-10.9,"v":0.05},{"E":-10.7,"v":0.1},{"E":-10.5,"v":0.15},{"E":-10.3,"v":0.2},{"E":-10.1,"v":0.25},{"E":-10.0,"v":0.3},{"E":-9.9,"v":0.3},{"E":-9.8,"v":0.35},{"E":-9.7,"v":0.4},{"E":-9.6,"v":0.45},{"E":-9.5,"v":0.5},{"E":-9.4,"v":0.6},{"E":-9.3,"v":1.1},{"E":-9.2,"v":0.8},{"E":-9.1,"v":0.6},{"E":-9.0,"v":0.5},{"E":-8.9,"v":0.6},{"E":-8.8,"v":0.5},{"E":-8.7,"v":0.4},{"E":-8.6,"v":0.3},{"E":-8.5,"v":0.35},{"E":-8.4,"v":0.5},{"E":-8.3,"v":0.45},{"E":-8.2,"v":0.55},{"E":-8.1,"v":0.5},{"E":-8.0,"v":0.7},{"E":-7.9,"v":0.8},{"E":-7.8,"v":0.9},{"E":-7.7,"v":1.0},{"E":-7.6,"v":1.3},{"E":-7.5,"v":1.0},{"E":-7.4,"v":0.9},{"E":-7.3,"v":0.6},{"E":-7.2,"v":0.5},{"E":-7.1,"v":0.6},{"E":-7.0,"v":0.45},{"E":-6.9,"v":0.6},{"E":-6.8,"v":0.8},{"E":-6.7,"v":0.95},{"E":-6.6,"v":0.6},{"E":-6.5,"v":0.5},{"E":-6.4,"v":0.4},{"E":-6.3,"v":0.35},{"E":-6.2,"v":0.3},{"E":-6.15,"v":0},{"E":-5.25,"v":0},{"E":-5.2,"v":0.3},{"E":-5.15,"v":0.6},{"E":-5.1,"v":0.4},{"E":-5.05,"v":0.7},{"E":-5.0,"v":0.5},{"E":-4.95,"v":0.8},{"E":-4.9,"v":0.5},{"E":-4.85,"v":0.8},{"E":-4.8,"v":0.5},{"E":-4.75,"v":0.7},{"E":-4.7,"v":0.5},{"E":-4.65,"v":0.6},{"E":-4.6,"v":0.4},{"E":-4.55,"v":0.6},{"E":-4.5,"v":0.4},{"E":-4.45,"v":0.5},{"E":-4.4,"v":0.4},{"E":-4.35,"v":0.7},{"E":-4.3,"v":0.8},{"E":-4.25,"v":1.0},{"E":-4.2,"v":0.7},{"E":-4.15,"v":0.9},{"E":-4.1,"v":0.6},{"E":-4.05,"v":0.8},{"E":-4.0,"v":0.5},{"E":-3.95,"v":0.8},{"E":-3.9,"v":0.6},{"E":-3.85,"v":0.8},{"E":-3.8,"v":0.5},{"E":-3.75,"v":0.9},{"E":-3.7,"v":0.7},{"E":-3.65,"v":1.2},{"E":-3.6,"v":1.5},{"E":-3.55,"v":0.8},{"E":-3.5,"v":1.0},{"E":-3.45,"v":0.7},{"E":-3.4,"v":1.0},{"E":-3.35,"v":0.6},{"E":-3.3,"v":0.9},{"E":-3.25,"v":0.7},{"E":-3.2,"v":1.0},{"E":-3.15,"v":0.7},{"E":-3.1,"v":0.9},{"E":-3.05,"v":0.6},{"E":-3.0,"v":0.9},{"E":-2.95,"v":0.6},{"E":-2.9,"v":0.8},{"E":-2.85,"v":0.5},{"E":-2.8,"v":0.7},{"E":-2.75,"v":0.4},{"E":-2.7,"v":0.6},{"E":-2.65,"v":0.4},{"E":-2.6,"v":0.6},{"E":-2.55,"v":0.7},{"E":-2.5,"v":0.9},{"E":-2.45,"v":1.0},{"E":-2.4,"v":1.3},{"E":-2.35,"v":1.2},{"E":-2.3,"v":1.7},{"E":-2.25,"v":1.8},{"E":-2.2,"v":2.6},{"E":-2.15,"v":2.0},{"E":-2.1,"v":3.0},{"E":-2.05,"v":2.2},{"E":-2.0,"v":2.8},{"E":-1.95,"v":2.1},{"E":-1.9,"v":2.6},{"E":-1.85,"v":2.2},{"E":-1.8,"v":2.9},{"E":-1.75,"v":2.2},{"E":-1.7,"v":2.6},{"E":-1.65,"v":2.1},{"E":-1.6,"v":2.5},{"E":-1.55,"v":2.1},{"E":-1.5,"v":2.4},{"E":-1.45,"v":1.9},{"E":-1.4,"v":2.1},{"E":-1.35,"v":1.7},{"E":-1.3,"v":1.9},{"E":-1.25,"v":1.6},{"E":-1.2,"v":1.8},{"E":-1.15,"v":1.5},{"E":-1.1,"v":1.7},{"E":-1.05,"v":1.5},{"E":-1.0,"v":2.1},{"E":-0.95,"v":1.0},{"E":-0.9,"v":1.1},{"E":-0.85,"v":0.6},{"E":-0.8,"v":0.7},{"E":-0.75,"v":0.4},{"E":-0.7,"v":0.5},{"E":-0.65,"v":0.3},{"E":-0.6,"v":0.4},{"E":-0.5,"v":0.3},{"E":-0.4,"v":0.1},{"E":-0.36,"v":0},{"E":-0.2,"v":0},{"E":-0.15,"v":0.2},{"E":-0.1,"v":0.4},{"E":-0.05,"v":0.3},{"E":0.0,"v":0.5},{"E":0.05,"v":0.4},{"E":0.1,"v":0.6},{"E":0.15,"v":0.5},{"E":0.2,"v":0.7},{"E":0.25,"v":0.5},{"E":0.3,"v":0.6},{"E":0.35,"v":0.4},{"E":0.4,"v":0.5},{"E":0.45,"v":0.4},{"E":0.5,"v":0.5},{"E":0.55,"v":0.4},{"E":0.6,"v":0.5},{"E":0.65,"v":0.4},{"E":0.7,"v":0.5},{"E":0.75,"v":0.4},{"E":0.8,"v":0.6},{"E":0.85,"v":0.4},{"E":0.9,"v":0.7},{"E":0.95,"v":0.5},{"E":1.0,"v":0.7},{"E":1.05,"v":0.5},{"E":1.1,"v":0.8},{"E":1.15,"v":0.5},{"E":1.2,"v":0.7},{"E":1.25,"v":0.5},{"E":1.3,"v":0.6},{"E":1.35,"v":0.4},{"E":1.4,"v":0.8},{"E":1.45,"v":0.5},{"E":1.5,"v":0.6},{"E":1.55,"v":0.4},{"E":1.6,"v":0.6},{"E":1.65,"v":0.4},{"E":1.7,"v":0.5},{"E":1.75,"v":0.4},{"E":1.8,"v":0.6},{"E":1.85,"v":0.4},{"E":1.9,"v":0.5},{"E":1.95,"v":0.4},{"E":2.0,"v":0.5},{"E":2.05,"v":0.4},{"E":2.1,"v":0.6},{"E":2.13,"v":1.4},{"E":2.17,"v":0.6},{"E":2.2,"v":0.8},{"E":2.25,"v":0.6},{"E":2.3,"v":0.9},{"E":2.35,"v":0.6},{"E":2.4,"v":0.8},{"E":2.45,"v":0.6},{"E":2.5,"v":0.9},{"E":2.55,"v":0.7},{"E":2.6,"v":1.0},{"E":2.65,"v":0.7},{"E":2.7,"v":0.9},{"E":2.75,"v":0.7},{"E":2.8,"v":1.0},{"E":2.85,"v":0.8},{"E":2.9,"v":1.1},{"E":2.95,"v":0.8},{"E":3.0,"v":0.7}],
"inset": [{"E":-0.0994,"v":68.8},{"E":-0.0936,"v":78.7},{"E":-0.0907,"v":50.5},{"E":-0.0858,"v":50.5},{"E":-0.081,"v":53.2},{"E":-0.0772,"v":57.2},{"E":-0.0745,"v":67},{"E":-0.0707,"v":101.8},{"E":-0.0664,"v":102.4},{"E":-0.058,"v":65},{"E":-0.054,"v":52.3},{"E":-0.05,"v":53.2},{"E":-0.047,"v":62.4},{"E":-0.043,"v":61.5},{"E":-0.039,"v":69.7},{"E":-0.034,"v":73.9},{"E":-0.029,"v":72.8},{"E":-0.026,"v":73.2},{"E":-0.022,"v":70.6},{"E":-0.018,"v":56.3},{"E":-0.014,"v":58.7},{"E":-0.0098,"v":63.3},{"E":-0.0058,"v":61.1},{"E":-0.002,"v":68.8},{"E":0.0,"v":69.7},{"E":0.0046,"v":66},{"E":0.0086,"v":67.3},{"E":0.0132,"v":77.4},{"E":0.018,"v":42.2},{"E":0.022,"v":38.5},{"E":0.026,"v":40.9},{"E":0.0296,"v":53.2},{"E":0.034,"v":63.3},{"E":0.0374,"v":75.2},{"E":0.042,"v":87.5},{"E":0.0454,"v":78},{"E":0.049,"v":82.9},{"E":0.053,"v":93},{"E":0.057,"v":86.6},{"E":0.061,"v":82.9},{"E":0.069,"v":84.8},{"E":0.0734,"v":94.5},{"E":0.0777,"v":92.7},{"E":0.0815,"v":93},{"E":0.085,"v":90.8},{"E":0.089,"v":80.2},{"E":0.0928,"v":83.5},{"E":0.0994,"v":91.7}],
"one": [{"id":1}]
},
"layer": [
 {"data": {"name": "total"}, "mark": {"type": "line", "strokeWidth": 1.3},
  "encoding": {
   "x": {"field": "E", "type": "quantitative", "scale": {"domain": [-11.5, 3], "nice": false, "zero": false}, "axis": {"orient": "top", "values": [-11,-10,-9,-8,-7,-6,-5,-4,-3,-2,-1,0,1,2,3], "tickSize": -6, "labels": false, "title": null}},
   "y": {"field": "v", "type": "quantitative", "scale": {"domain": [-542.56, 270], "nice": false, "zero": false}, "axis": {"orient": "left", "values": [0,50,100,150,200,250], "tickSize": -6, "labelPadding": 10, "title": null}},
   "color": {"datum": "Total", "scale": {"domain": ["Total"], "range": ["#000000"]}, "legend": {"legendX": 21, "legendY": 0}}
  }},
 {"data": {"name": "sn5p"}, "mark": {"type": "line"},
  "encoding": {
   "x": {"field": "E", "type": "quantitative", "scale": {"domain": [-11.5, 3], "nice": false, "zero": false}, "axis": {"orient": "top", "values": [-10.5,-9.5,-8.5,-7.5,-6.5,-5.5,-4.5,-3.5,-2.5,-1.5,-0.5,0.5,1.5,2.5], "tickSize": -3, "tickWidth": 1.5, "labels": false, "title": null}},
   "y": {"field": "v", "type": "quantitative", "scale": {"domain": [-542.56, 270], "nice": false, "zero": false}, "axis": {"orient": "right", "values": [0,50,100,150,200,250], "tickSize": -6, "labels": false, "title": null}},
   "color": {"datum": "Sn (5p)", "scale": {"domain": ["Sn (5p)"], "range": ["#0000ff"]}, "legend": {"legendX": 21, "legendY": 58}}
  }},
 {"data": {"name": "sn5s"}, "mark": {"type": "line"},
  "encoding": {
   "x": {"field": "E", "type": "quantitative", "scale": {"domain": [-11.5, 3], "nice": false, "zero": false}, "axis": {"orient": "bottom", "offset": -424, "values": [-11,-10,-9,-8,-7,-6,-5,-4,-3,-2,-1,0,1,2,3], "tickSize": -6, "labels": false, "title": null}},
   "y": {"field": "v", "type": "quantitative", "scale": {"domain": [-542.56, 270], "nice": false, "zero": false}, "axis": null},
   "color": {"datum": "Sn (5s)", "scale": {"domain": ["Sn (5s)"], "range": ["#ff0000"]}, "legend": {"legendX": 21, "legendY": 29}}
  }},
 {"data": {"name": "sc3d"}, "mark": {"type": "line"},
  "encoding": {
   "x": {"field": "E", "type": "quantitative", "scale": {"domain": [-11.5, 3], "nice": false, "zero": false}, "axis": {"orient": "bottom", "offset": -424, "values": [-10.5,-9.5,-8.5,-7.5,-6.5,-5.5,-4.5,-3.5,-2.5,-1.5,-0.5,0.5,1.5,2.5], "tickSize": -3, "tickWidth": 1.5, "labels": false, "title": null}},
   "y": {"field": "v", "type": "quantitative", "scale": {"domain": [-180, 359.151], "nice": false, "zero": false}, "axis": {"orient": "left", "values": [0,50,100,150], "tickSize": -6, "labelPadding": 10, "title": "DOS (States eV⁻¹ unit cell⁻¹)", "titlePadding": 2}},
   "color": {"datum": "Sc (3d)", "scale": {"domain": ["Sc (3d)"], "range": ["#008000"]}, "legend": {"legendX": 418, "legendY": 207}}
  }},
 {"data": {"name": "rh4d"}, "mark": {"type": "line"},
  "encoding": {
   "x": {"field": "E", "type": "quantitative", "scale": {"domain": [-11.5, 3], "nice": false, "zero": false}, "axis": {"orient": "top", "offset": -211, "values": [-11,-10,-9,-8,-7,-6,-5,-4,-3,-2,-1,0,1,2,3], "tickSize": -6, "labels": false, "title": null}},
   "y": {"field": "v", "type": "quantitative", "scale": {"domain": [-180, 359.151], "nice": false, "zero": false}, "axis": {"orient": "right", "values": [0,50,100,150], "tickSize": -6, "labels": false, "title": null}},
   "color": {"datum": "Rh (4d)", "scale": {"domain": ["Rh (4d)"], "range": ["#00ffff"]}, "legend": {"legendX": 418, "legendY": 236}}
  }},
 {"data": {"name": "sc4s"}, "mark": {"type": "line"},
  "encoding": {
   "x": {"field": "E", "type": "quantitative", "scale": {"domain": [-11.5, 3], "nice": false, "zero": false}, "axis": {"orient": "bottom", "values": [-11,-10,-9,-8,-7,-6,-5,-4,-3,-2,-1,0,1,2,3], "tickSize": -6, "labelPadding": 14, "labelExpr": "'' + datum.value", "title": "(eV)", "titleX": 377, "titleY": 56, "titleBaseline": "alphabetic", "titleAlign": "center"}},
   "y": {"field": "v", "type": "quantitative", "scale": {"domain": [0, 32.948], "nice": false, "zero": false}, "axis": {"orient": "left", "values": [0,3,6,9], "tickSize": -6, "labelPadding": 10, "title": null}},
   "color": {"datum": "Sc (4s)", "scale": {"domain": ["Sc (4s)"], "range": ["#800000"]}, "legend": {"legendX": 13, "legendY": 427}}
  }},
 {"data": {"name": "sc4p"}, "mark": {"type": "line"},
  "encoding": {
   "x": {"field": "E", "type": "quantitative", "scale": {"domain": [-11.5, 3], "nice": false, "zero": false}, "axis": {"orient": "bottom", "values": [-10.5,-9.5,-8.5,-7.5,-6.5,-5.5,-4.5,-3.5,-2.5,-1.5,-0.5,0.5,1.5,2.5], "tickSize": -3, "tickWidth": 1.5, "labels": false, "title": "E", "titleFontStyle": "italic", "titleX": 339, "titleY": 56, "titleBaseline": "alphabetic", "titleAlign": "center"}},
   "y": {"field": "v", "type": "quantitative", "scale": {"domain": [0, 32.948], "nice": false, "zero": false}, "axis": {"orient": "right", "values": [0,3,6,9], "tickSize": -6, "labels": false, "title": null}},
   "color": {"datum": "Sc (4p)", "scale": {"domain": ["Sc (4p)"], "range": ["#ff8000"]}, "legend": {"legendX": 13, "legendY": 456}}
  }},
 {"data": {"name": "rh5s"}, "mark": {"type": "line"},
  "encoding": {
   "x": {"field": "E", "type": "quantitative", "scale": {"domain": [-11.5, 3], "nice": false, "zero": false}, "axis": {"orient": "bottom", "offset": -212, "values": [-11,-10,-9,-8,-7,-6,-5,-4,-3,-2,-1,0,1,2,3], "tickSize": -6, "labels": false, "title": null}},
   "y": {"field": "v", "type": "quantitative", "scale": {"domain": [0, 32.948], "nice": false, "zero": false}, "axis": null},
   "color": {"datum": "Rh (5s)", "scale": {"domain": ["Rh (5s)"], "range": ["#ff0000"]}, "legend": {"legendX": 13, "legendY": 485}}
  }},
 {"data": {"name": "rh5p"}, "mark": {"type": "line"},
  "encoding": {
   "x": {"field": "E", "type": "quantitative", "scale": {"domain": [-11.5, 3], "nice": false, "zero": false}, "axis": {"orient": "bottom", "offset": -212, "values": [-10.5,-9.5,-8.5,-7.5,-6.5,-5.5,-4.5,-3.5,-2.5,-1.5,-0.5,0.5,1.5,2.5], "tickSize": -3, "tickWidth": 1.5, "labels": false, "title": null}},
   "y": {"field": "v", "type": "quantitative", "scale": {"domain": [0, 32.948], "nice": false, "zero": false}, "axis": null},
   "color": {"datum": "Rh (5p)", "scale": {"domain": ["Rh (5p)"], "range": ["#0000ff"]}, "legend": {"legendX": 13, "legendY": 514}}
  }},
 {"data": {"name": "one"}, "mark": {"type": "rule", "color": "black", "strokeWidth": 2},
  "encoding": {
   "y": {"datum": 0, "type": "quantitative", "scale": {"domain": [-542.56, 270], "nice": false, "zero": false}, "axis": null}
  }},
 {"data": {"name": "one"}, "mark": {"type": "rule", "color": "black", "strokeWidth": 2},
  "encoding": {
   "y": {"datum": 0, "type": "quantitative", "scale": {"domain": [-180, 359.151], "nice": false, "zero": false}, "axis": null}
  }},
 {"data": {"name": "one"}, "mark": {"type": "rule", "strokeDash": [5, 4], "strokeWidth": 1.5, "color": "black"},
  "encoding": {
   "x": {"datum": 0, "type": "quantitative", "scale": {"domain": [-11.5, 3], "nice": false, "zero": false}, "axis": {"orient": "top", "offset": -211, "values": [-10.5,-9.5,-8.5,-7.5,-6.5,-5.5,-4.5,-3.5,-2.5,-1.5,-0.5,0.5,1.5,2.5], "tickSize": -3, "tickWidth": 1.5, "labels": false, "title": null}}
  }},
 {"data": {"name": "one"}, "mark": {"type": "text", "text": "E", "font": "Liberation Sans", "fontStyle": "italic", "fontWeight": "bold", "fontSize": 27, "align": "left", "baseline": "middle", "color": "black"},
  "encoding": {
   "x": {"datum": 0.14, "type": "quantitative", "scale": {"domain": [-11.5, 3], "nice": false, "zero": false}, "axis": {"orient": "top", "offset": -423, "values": [-11,-10,-9,-8,-7,-6,-5,-4,-3,-2,-1,0,1,2,3], "tickSize": -6, "labels": false, "title": null}},
   "y": {"datum": 238, "type": "quantitative", "scale": {"domain": [-542.56, 270], "nice": false, "zero": false}, "axis": null}
  }},
 {"data": {"name": "one"}, "mark": {"type": "text", "text": "F", "font": "Liberation Sans", "fontWeight": "bold", "fontSize": 14, "align": "left", "baseline": "middle", "color": "black"},
  "encoding": {
   "x": {"datum": 0.5, "type": "quantitative", "scale": {"domain": [-11.5, 3], "nice": false, "zero": false}, "axis": {"orient": "top", "offset": -423, "values": [-10.5,-9.5,-8.5,-7.5,-6.5,-5.5,-4.5,-3.5,-2.5,-1.5,-0.5,0.5,1.5,2.5], "tickSize": -3, "tickWidth": 1.5, "labels": false, "title": null}},
   "y": {"datum": 221, "type": "quantitative", "scale": {"domain": [-542.56, 270], "nice": false, "zero": false}, "axis": null}
  }},
 {"data": {"name": "one"}, "mark": {"type": "rect", "fill": "white", "stroke": "black", "strokeWidth": 1.5},
  "encoding": {
   "x": {"datum": -0.1, "type": "quantitative", "scale": {"domain": [-0.159483, 0.45431], "nice": false, "zero": false}, "axis": null},
   "x2": {"datum": 0.1},
   "y": {"datum": 30, "type": "quantitative", "scale": {"domain": [-114.0, 236.345], "nice": false, "zero": false}, "axis": {"orient": "left", "offset": -69, "values": [40,60,80,100], "tickSize": -4, "tickWidth": 1.5, "labelFontSize": 15, "labelPadding": 9, "title": "DOS (St. eV⁻¹ u.c.⁻¹)", "titleFontSize": 15, "titlePadding": 3, "titleY": 305, "titleAlign": "center"}},
   "y2": {"datum": 110}
  }},
 {"data": {"name": "one"}, "mark": {"type": "rule", "strokeDash": [4, 3], "strokeWidth": 1.5, "color": "black"},
  "encoding": {
   "x": {"datum": 0, "type": "quantitative", "scale": {"domain": [-0.159483, 0.45431], "nice": false, "zero": false}, "axis": {"orient": "bottom", "offset": -261, "ticks": false, "labels": false, "title": "E", "titleFontStyle": "italic", "titleFontSize": 16, "titleX": 167, "titleY": 34, "titleBaseline": "alphabetic", "titleAlign": "center"}},
   "y": {"datum": 30, "type": "quantitative", "scale": {"domain": [-114.0, 236.345], "nice": false, "zero": false}, "axis": null},
   "y2": {"datum": 110}
  }},
 {"data": {"name": "inset"}, "mark": {"type": "line", "color": "black", "strokeWidth": 2},
  "encoding": {
   "x": {"field": "E", "type": "quantitative", "scale": {"domain": [-0.159483, 0.45431], "nice": false, "zero": false}, "axis": {"orient": "bottom", "offset": -261, "values": [-0.1,-0.05,0,0.05,0.1], "tickSize": -4, "tickWidth": 1.5, "labelFontSize": 15, "labelPadding": 9, "labelExpr": "replace(format(datum.value, '.2f'), '\u2212', '-')", "title": "(eV)", "titleFontSize": 16, "titleX": 196, "titleY": 34, "titleBaseline": "alphabetic", "titleAlign": "center"}},
   "y": {"field": "v", "type": "quantitative", "scale": {"domain": [-114.0, 236.345], "nice": false, "zero": false}, "axis": null}
  }}
]
}
